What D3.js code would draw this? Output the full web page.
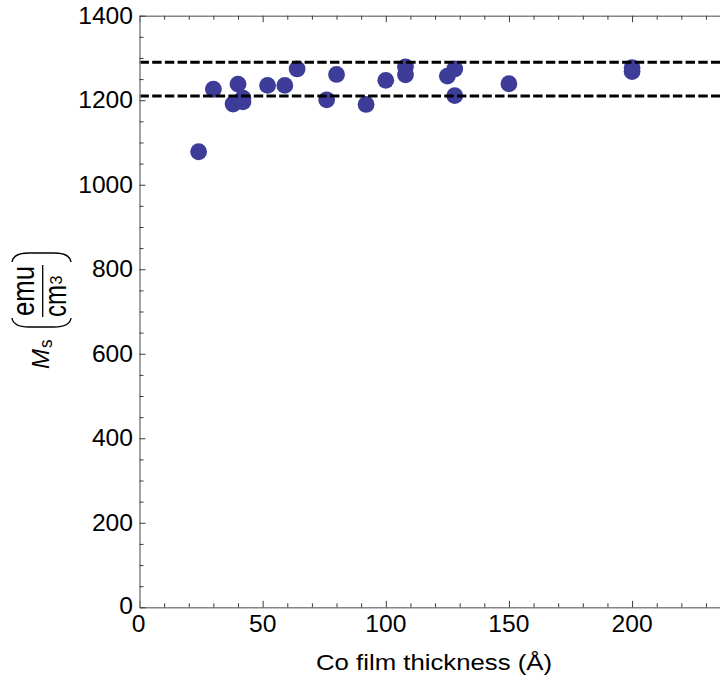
<!DOCTYPE html>
<html>
<head>
<meta charset="utf-8">
<script src="https://cdn.jsdelivr.net/npm/d3@7"></script>
<style>
  body { margin: 0; background: #fff; }
  svg { display: block; }
  text { font-family: "Liberation Sans", Arial, Helvetica, sans-serif; fill: #000; }
</style>
</head>
<body>
<svg id="chart" width="720" height="679"></svg>
<script>
// Co film thickness (Å) of each sample
const thickness = [24, 30, 38, 40, 42, 42, 52, 59, 64, 76, 80, 92, 100, 108, 108, 125, 128, 128, 150, 200, 200];
// Saturation magnetisation Ms (emu/cm^3)
const saturation = [1078, 1226, 1191, 1238, 1205, 1196, 1235, 1235, 1274, 1201, 1261, 1190, 1247, 1279, 1260, 1257, 1274, 1211, 1239, 1277, 1268];
// Reference band (dashed lines)
const bandLevels = [1210, 1290];

const xMajorTicks = [0, 50, 100, 150, 200];
const xMinorTicks = d3.range(0, 236, 10).filter(v => v % 50 !== 0);
const yMajorTicks = [0, 200, 400, 600, 800, 1000, 1200, 1400];
const yMinorTicks = d3.range(0, 1401, 50).filter(v => v % 200 !== 0);

const svg = d3.select("#chart");
const x = d3.scaleLinear().domain([0, 235.7]).range([139.5, 720]);
const y = d3.scaleLinear().domain([0, 1400]).range([607.3, 15.7]);

const axisColor = "#858585";
const tickColor = "#3a3a3a";

// Points first; the dashed band lines sit on top of them
const points = thickness.map((t, i) => ({ t, m: saturation[i] }));
svg.append("g").selectAll("circle")
  .data(points)
  .join("circle")
  .attr("cx", d => x(d.t))
  .attr("cy", d => y(d.m))
  .attr("r", 8.4)
  .attr("fill", "#3d3d99");

svg.append("g").selectAll("line")
  .data(bandLevels)
  .join("line")
  .attr("x1", x(0)).attr("x2", x.range()[1])
  .attr("y1", d => y(d)).attr("y2", d => y(d))
  .attr("stroke", "#000")
  .attr("stroke-width", 3)
  .attr("stroke-dasharray", "9.4,3.3");

function styleAxis(g, showDomain) {
  g.selectAll(".tick line").attr("stroke", tickColor).attr("stroke-width", 1);
  g.selectAll(".tick text").remove();
  if (showDomain) {
    g.select(".domain").attr("stroke", axisColor).attr("stroke-width", 1.5);
  } else {
    g.select(".domain").remove();
  }
}

// Bottom axis
const gBottom = svg.append("g").attr("transform", `translate(0,${y(0)})`);
gBottom.append("g").call(d3.axisBottom(x).tickValues(xMajorTicks).tickSizeInner(-6.5).tickSizeOuter(0).tickFormat(""))
  .call(g => styleAxis(g, true));
gBottom.append("g").call(d3.axisBottom(x).tickValues(xMinorTicks).tickSizeInner(-4).tickSizeOuter(0).tickFormat(""))
  .call(g => styleAxis(g, false));

// Top frame
const gTop = svg.append("g").attr("transform", `translate(0,${y(1400)})`);
gTop.append("g").call(d3.axisTop(x).tickValues(xMajorTicks).tickSizeInner(-6.5).tickSizeOuter(0).tickFormat(""))
  .call(g => styleAxis(g, true));
gTop.append("g").call(d3.axisTop(x).tickValues(xMinorTicks).tickSizeInner(-4).tickSizeOuter(0).tickFormat(""))
  .call(g => styleAxis(g, false));

// Left axis
const gLeft = svg.append("g").attr("transform", `translate(${x(0)},0)`);
gLeft.append("g").call(d3.axisLeft(y).tickValues(yMajorTicks).tickSizeInner(-6).tickSizeOuter(0).tickFormat(""))
  .call(g => styleAxis(g, true));
gLeft.append("g").call(d3.axisLeft(y).tickValues(yMinorTicks).tickSizeInner(-4).tickSizeOuter(0).tickFormat(""))
  .call(g => styleAxis(g, false));

// Tick labels
const digitW = 13.7;
svg.append("g").selectAll("text")
  .data(xMajorTicks)
  .join("text")
  .attr("x", d => x(d) - (d === 0 ? 1 : 0))
  .attr("y", 631.5)
  .attr("text-anchor", "middle")
  .attr("font-size", 23.5)
  .attr("textLength", d => String(d).length * digitW)
  .attr("lengthAdjust", "spacingAndGlyphs")
  .text(d => d);

svg.append("g").selectAll("text")
  .data(yMajorTicks)
  .join("text")
  .attr("x", 133)
  .attr("y", d => y(d) + 8.2 - (d === 0 ? 2 : 0))
  .attr("text-anchor", "end")
  .attr("font-size", 23.5)
  .attr("textLength", d => String(d).length * digitW)
  .attr("lengthAdjust", "spacingAndGlyphs")
  .text(d => d);

// X axis title
svg.append("text")
  .attr("x", 434)
  .attr("y", 669.5)
  .attr("text-anchor", "middle")
  .attr("font-size", 21.5)
  .attr("textLength", 236)
  .attr("lengthAdjust", "spacingAndGlyphs")
  .text("Co film thickness (Å)");

// Y axis title: M_s (emu / cm^3), set vertically
const yt = svg.append("g").attr("transform", "rotate(-90)");
yt.append("text")
  .attr("x", -369).attr("y", 49)
  .attr("font-size", 23).attr("font-style", "italic")
  .attr("textLength", 20).attr("lengthAdjust", "spacingAndGlyphs")
  .text("M");
yt.append("text")
  .attr("x", -348).attr("y", 51.5)
  .attr("font-size", 18)
  .attr("textLength", 8.5).attr("lengthAdjust", "spacingAndGlyphs")
  .text("s");
yt.append("text")
  .attr("x", -291).attr("y", 33.5)
  .attr("text-anchor", "middle")
  .attr("font-size", 31)
  .attr("textLength", 50).attr("lengthAdjust", "spacingAndGlyphs")
  .text("emu");
yt.append("text")
  .attr("x", -317).attr("y", 66)
  .attr("font-size", 31)
  .attr("textLength", 32).attr("lengthAdjust", "spacingAndGlyphs")
  .text("cm");
yt.append("text")
  .attr("x", -284.5).attr("y", 61.5)
  .attr("font-size", 17)
  .attr("textLength", 9).attr("lengthAdjust", "spacingAndGlyphs")
  .text("3");
yt.append("line")
  .attr("x1", -317).attr("x2", -265)
  .attr("y1", 42.7).attr("y2", 42.7)
  .attr("stroke", "#000").attr("stroke-width", 1.3);

// Large parentheses around the unit fraction
svg.append("path")
  .attr("d", "M12,318 C13,325 19,327 29,327 L54,327 C64,327 70,325 71,318")
  .attr("fill", "none").attr("stroke", "#000").attr("stroke-width", 1.4);
svg.append("path")
  .attr("d", "M12,262 C13,255 19,253 29,253 L54,253 C64,253 70,255 71,262")
  .attr("fill", "none").attr("stroke", "#000").attr("stroke-width", 1.4);
</script>
</body>
</html>
